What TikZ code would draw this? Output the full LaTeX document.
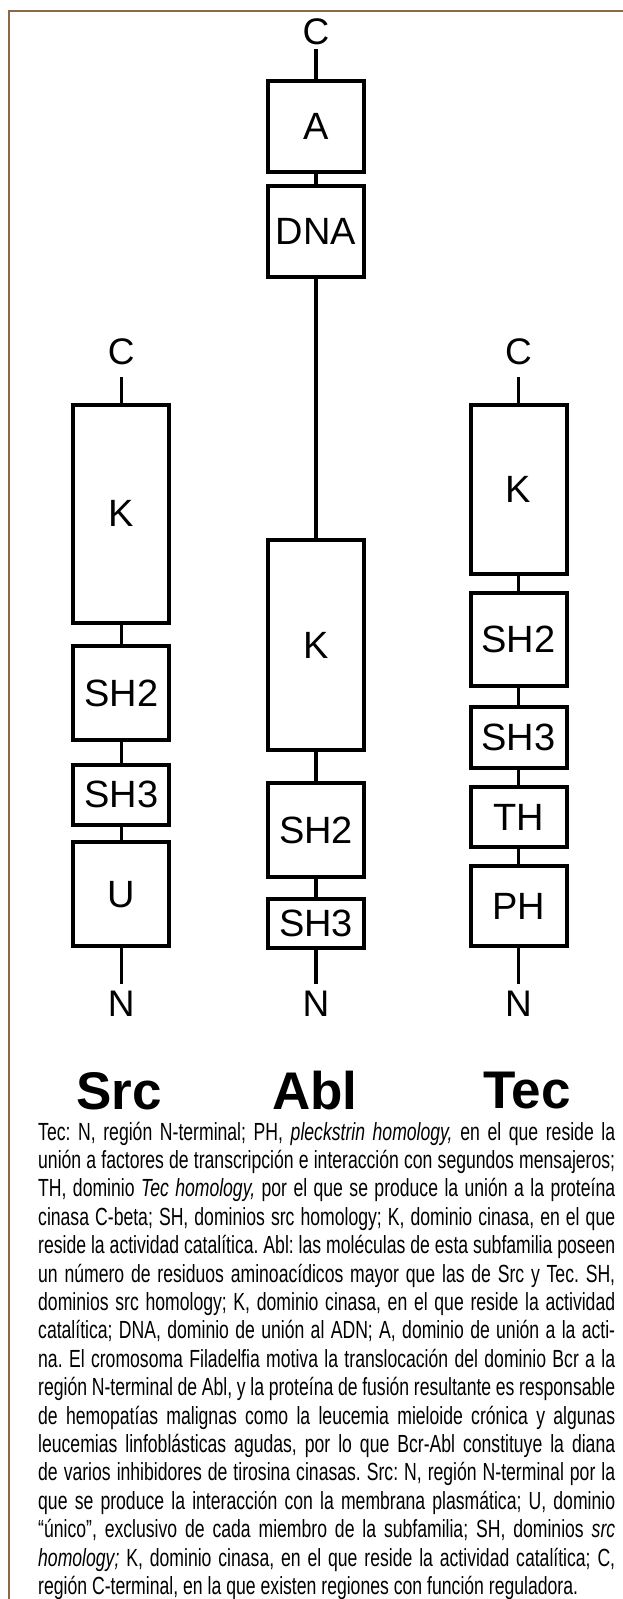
\documentclass[tikz,border=0pt]{standalone}
\usepackage{fontspec}
\setmainfont{Liberation Sans}
\newfontfamily\capfont[FakeStretch=0.71]{Liberation Sans}
\definecolor{framebrown}{RGB}{139,104,72}
\newcommand{\jline}[1]{\hbox to 577pt{#1}}
\begin{document}
\begin{tikzpicture}[x=1pt,y=-1pt,
  dom/.style={draw, line width=4pt, minimum width=96pt, inner sep=0pt, font=\fontsize{38}{40}\selectfont},
  conn/.style={line width=3.5pt},
  term/.style={font=\fontsize{37}{39}\selectfont, inner sep=0pt},
  fam/.style={font=\bfseries\fontsize{53}{55}\selectfont, inner sep=0pt},
  framel/.style={draw=framebrown, line width=2pt}]
\useasboundingbox (0,0) rectangle (623,1599);
\fill[white] (0,0) rectangle (623,1599);
\draw[framel] (8.5,1599) -- (8.5,10.5) -- (623,10.5);

% Abl
\node[dom, minimum height=91pt] (aA) at (316,126) {A};
\node[dom, minimum height=91pt] (aDNA) at (316,231) {DNA};
\node[dom, minimum height=210pt] (aK) at (316,645.4) {K};
\node[dom, minimum height=94pt] (aSH2) at (316,830) {SH2};
\node[dom, minimum height=49pt] (aSH3) at (316,923.5) {SH3};
\node[term] (aC) at (316,32) {C};
\node[term] (aN) at (316,1004) {N};
\coordinate (aCt) at (316,49);
\coordinate (aNb) at (316,984);
\draw[conn] (aCt) -- (aA.north);
\draw[conn] (aA.south) -- (aDNA.north);
\draw[conn] (aDNA.south) -- (aK.north);
\draw[conn] (aK.south) -- (aSH2.north);
\draw[conn] (aSH2.south) -- (aSH3.north);
\draw[conn] (aSH3.south) -- (aNb);

% Src
\node[dom, minimum height=218pt] (sK) at (121.3,513.9) {K};
\node[dom, minimum height=94pt] (sSH2) at (121.3,693.3) {SH2};
\node[dom, minimum height=60pt] (sSH3) at (121.3,794.8) {SH3};
\node[dom, minimum height=104pt] (sU) at (121.3,894.2) {U};
\node[term] (sC) at (121.3,352) {C};
\node[term] (sN) at (121.3,1004) {N};
\coordinate (sCt) at (121.3,377);
\coordinate (sNb) at (121.3,984);
\draw[conn] (sCt) -- (sK.north);
\draw[conn] (sK.south) -- (sSH2.north);
\draw[conn] (sSH2.south) -- (sSH3.north);
\draw[conn] (sSH3.south) -- (sU.north);
\draw[conn] (sU.south) -- (sNb);

% Tec
\node[dom, minimum height=169pt] (tK) at (518.5,489.4) {K};
\node[dom, minimum height=93pt] (tSH2) at (518.5,639.8) {SH2};
\node[dom, minimum height=61pt] (tSH3) at (518.5,737.2) {SH3};
\node[dom, minimum height=60pt] (tTH) at (518.5,817.2) {TH};
\node[dom, minimum height=80pt] (tPH) at (518.5,906.4) {PH};
\node[term] (tC) at (518.5,352) {C};
\node[term] (tN) at (518.5,1004) {N};
\coordinate (tCt) at (518.5,377);
\coordinate (tNb) at (518.5,984);
\draw[conn] (tCt) -- (tK.north);
\draw[conn] (tK.south) -- (tSH2.north);
\draw[conn] (tSH2.south) -- (tSH3.north);
\draw[conn] (tSH3.south) -- (tTH.north);
\draw[conn] (tTH.south) -- (tPH.north);
\draw[conn] (tPH.south) -- (tNb);

% family names
\node[fam] (lsrc) at (119,1091) {Src};
\node[fam] (labl) at (315,1091) {Abl};
\node[fam] (ltec) at (527,1091) {Tec};

% caption
\node[anchor=base west, inner sep=0pt] (cap) at (38,1140) {\parbox[t]{577pt}{\capfont\fontsize{24.8}{28.4}\selectfont\frenchspacing
\baselineskip=28.4pt \spaceskip=0.2em plus 0.8em minus 0.07em
\jline{Tec: N, región N-terminal; PH, \textit{pleckstrin homology,} en el que reside la}
\jline{unión a factores de transcripción e interacción con segundos mensajeros;}
\jline{TH, dominio \textit{Tec homology,} por el que se produce la unión a la proteína}
\jline{cinasa C-beta; SH, dominios src homology; K, dominio cinasa, en el que}
\jline{reside la actividad catalítica. Abl: las moléculas de esta subfamilia poseen}
\jline{un número de residuos aminoacídicos mayor que las de Src y Tec. SH,}
\jline{dominios src homology; K, dominio cinasa, en el que reside la actividad}
\jline{catalítica; DNA, dominio de unión al ADN; A, dominio de unión a la acti-}
\jline{na. El cromosoma Filadelfia motiva la translocación del dominio Bcr a la}
\jline{región N-terminal de Abl, y la proteína de fusión resultante es responsable}
\jline{de hemopatías malignas como la leucemia mieloide crónica y algunas}
\jline{leucemias linfoblásticas agudas, por lo que Bcr-Abl constituye la diana}
\jline{de varios inhibidores de tirosina cinasas. Src: N, región N-terminal por la}
\jline{que se produce la interacción con la membrana plasmática; U, dominio}
\jline{“único”, exclusivo de cada miembro de la subfamilia; SH, dominios \textit{src}}
\jline{\textit{homology;} K, dominio cinasa, en el que reside la actividad catalítica; C,}
\hbox{región C-terminal, en la que existen regiones con función reguladora.}}};
\end{tikzpicture}
\end{document}
